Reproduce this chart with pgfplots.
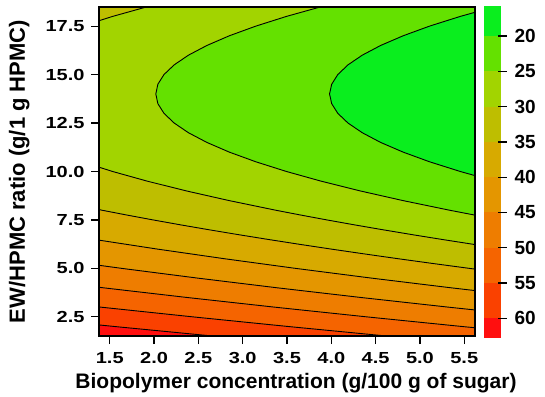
\documentclass[border=0pt]{standalone}
\usepackage{pgfplots}
\pgfplotsset{compat=1.18}
\usepackage{fontspec}
\setmainfont{Liberation Sans}
\newfontfamily\tickfont[FakeStretch=1.25]{Liberation Sans Bold}
\newfontfamily\boldfont{Liberation Sans Bold}
\definecolor{b1}{RGB}{10,238,30}
\definecolor{b2}{RGB}{100,225,0}
\definecolor{b3}{RGB}{162,212,0}
\definecolor{b4}{RGB}{190,190,0}
\definecolor{b5}{RGB}{215,170,0}
\definecolor{b6}{RGB}{228,150,0}
\definecolor{b7}{RGB}{238,125,0}
\definecolor{b8}{RGB}{245,100,0}
\definecolor{b9}{RGB}{250,65,0}
\definecolor{b10}{RGB}{255,15,15}
\begin{document}
\begin{tikzpicture}
\useasboundingbox (-99pt,-60pt) rectangle (446pt,336pt);
\begin{axis}[
  at={(0pt,0pt)}, anchor=south west,
  scale only axis, width=376pt, height=329pt,
  xmin=1.379, xmax=5.621, ymin=1.515, ymax=18.485,
  axis on top,
  xtick={1.5,2.0,2.5,3.0,3.5,4.0,4.5,5.0,5.5},
  ytick={2.5,5.0,7.5,10.0,12.5,15.0,17.5},
  tick align=outside, major tick length=8pt,
  xtick pos=bottom, ytick pos=left,
  tick style={line width=1.1pt, black},
  axis line style={line width=1.2pt},
  /pgf/number format/assume math mode=true,
  /pgf/number format/fixed, /pgf/number format/fixed zerofill,
  /pgf/number format/precision=1,
  xticklabel style={font=\tickfont\fontsize{16}{16}\selectfont, yshift=-4.5pt},
  yticklabel style={font=\tickfont\fontsize{16}{16}\selectfont, xshift=-3pt},
  xlabel={Biopolymer concentration (g/100 g of sugar)},
  ylabel={EW/HPMC ratio (g/1 g HPMC)},
  every axis x label/.style={at={(axis description cs:0.524,-0.161)}, anchor=base, font=\boldfont\fontsize{21}{21}\selectfont},
  every axis y label/.style={at={(axis description cs:-0.197,0.5)}, rotate=90, anchor=base, font=\boldfont\fontsize{22}{22}\selectfont},
]
% background (> 60)
\addplot[fill=b10, draw=none] coordinates {(0,0) (7,0) (7,20) (0,20)};
% z < 60
\addplot[fill=b9, draw=none] coordinates {(0.482,2.5) (1.565,2) (2.694,1.5) (3.869,1) (7,1) (7,20) (0.482,20)};
% z < 55
\addplot[fill=b8, draw=none] coordinates {(0.415,3.5) (1.406,3) (2.443,2.5) (3.525,2) (4.655,1.5) (5.829,1) (7,1) (7,20) (0.415,20)};
% z < 50
\addplot[fill=b7, draw=none] coordinates {(0.533,4.5) (1.431,4) (2.376,3.5) (3.367,3) (4.404,2.5) (5.486,2) (6.615,1.5) (6.615,20) (0.533,20)};
% z < 45
\addplot[fill=b6, draw=none] coordinates {(0.835,5.5) (1.641,5) (2.494,4.5) (3.392,4) (4.337,3.5) (5.327,3) (6.364,2.5) (6.364,20) (0.835,20)};
% z < 40
\addplot[fill=b5, draw=none] coordinates {(0.653,7) (1.321,6.5) (2.035,6) (2.796,5.5) (3.602,5) (4.455,4.5) (5.353,4) (6.298,3.5) (6.298,20) (0.653,20)};
% z < 35
\addplot[fill=b4, draw=none] coordinates {(0.886,8.5) (1.416,8) (1.698,7.75) (1.992,7.5) (2.297,7.25) (2.614,7) (2.942,6.75) (3.282,6.5) (3.633,6.25) (3.996,6) (4.371,5.75) (4.756,5.5) (5.154,5.25) (5.563,5) (6.415,4.5) (6.415,20) (0.886,20)};
% z < 30
\addplot[fill=b3, draw=none] coordinates {(0.888,17) (1.188,17.5) (1.533,18) (1.925,18.5) (2.363,19) (7,19) (7,6.0) (5.957,6.0) (5.594,6.25) (5.243,6.5) (4.903,6.75) (4.575,7) (4.258,7.25) (3.953,7.5) (3.659,7.75) (3.376,8) (2.847,8.5) (2.363,9) (1.925,9.5) (1.533,10) (1.188,10.5) (0.888,11)};
% z < 25
\addplot[fill=b2, draw=none] coordinates {(5.913,7.5) (5.620,7.75) (5.337,8) (4.808,8.5) (4.324,9) (3.886,9.5) (3.494,10) (3.149,10.5) (2.849,11) (2.596,11.5) (2.388,12) (2.227,12.5) (2.112,13) (2.043,13.5) (2.020,14) (2.043,14.5) (2.112,15) (2.227,15.5) (2.388,16) (2.596,16.5) (2.849,17) (3.149,17.5) (3.494,18) (3.886,18.5) (4.324,19) (7,19) (7,7.5)};
% z < 20
\addplot[fill=b1, draw=none] coordinates {(5.847,9.5) (5.455,10) (5.109,10.5) (4.810,11) (4.556,11.5) (4.349,12) (4.188,12.5) (4.073,13) (4.004,13.5) (3.980,14) (4.004,14.5) (4.073,15) (4.188,15.5) (4.349,16) (4.556,16.5) (4.810,17) (5.109,17.5) (5.455,18) (5.847,18.5) (7,18.5) (7,9.5)};
% contour lines
\addplot[black, line width=0.9pt] coordinates {(0.482,2.5) (1.565,2) (2.694,1.5) (3.869,1)};
\addplot[black, line width=0.9pt] coordinates {(0.415,3.5) (1.406,3) (2.443,2.5) (3.525,2) (4.655,1.5) (5.829,1)};
\addplot[black, line width=0.9pt] coordinates {(0.533,4.5) (1.431,4) (2.376,3.5) (3.367,3) (4.404,2.5) (5.486,2) (6.615,1.5)};
\addplot[black, line width=0.9pt] coordinates {(0.835,5.5) (1.641,5) (2.494,4.5) (3.392,4) (4.337,3.5) (5.327,3) (6.364,2.5)};
\addplot[black, line width=0.9pt] coordinates {(0.653,7) (1.321,6.5) (2.035,6) (2.796,5.5) (3.602,5) (4.455,4.5) (5.353,4) (6.298,3.5)};
\addplot[black, line width=0.9pt] coordinates {(0.886,8.5) (1.416,8) (1.698,7.75) (1.992,7.5) (2.297,7.25) (2.614,7) (2.942,6.75) (3.282,6.5) (3.633,6.25) (3.996,6) (4.371,5.75) (4.756,5.5) (5.154,5.25) (5.563,5) (6.415,4.5)};
\addplot[black, line width=0.9pt] coordinates {(0.888,17) (1.188,17.5) (1.533,18) (1.925,18.5) (2.363,19)};
\addplot[black, line width=0.9pt] coordinates {(5.957,6.0) (5.594,6.25) (5.243,6.5) (4.903,6.75) (4.575,7) (4.258,7.25) (3.953,7.5) (3.659,7.75) (3.376,8) (2.847,8.5) (2.363,9) (1.925,9.5) (1.533,10) (1.188,10.5) (0.888,11)};
\addplot[black, line width=0.9pt] coordinates {(5.913,7.5) (5.620,7.75) (5.337,8) (4.808,8.5) (4.324,9) (3.886,9.5) (3.494,10) (3.149,10.5) (2.849,11) (2.596,11.5) (2.388,12) (2.227,12.5) (2.112,13) (2.043,13.5) (2.020,14) (2.043,14.5) (2.112,15) (2.227,15.5) (2.388,16) (2.596,16.5) (2.849,17) (3.149,17.5) (3.494,18) (3.886,18.5) (4.324,19)};
\addplot[black, line width=0.9pt] coordinates {(5.847,9.5) (5.455,10) (5.109,10.5) (4.810,11) (4.556,11.5) (4.349,12) (4.188,12.5) (4.073,13) (4.004,13.5) (3.980,14) (4.004,14.5) (4.073,15) (4.188,15.5) (4.349,16) (4.556,16.5) (4.810,17) (5.109,17.5) (5.455,18) (5.847,18.5)};
\end{axis}
% colour key (values plotted negated so that 20 is at the top)
\begin{axis}[
  at={(385pt,-2.3pt)}, anchor=south west,
  scale only axis, width=26pt, height=332.3pt,
  xmin=0, xmax=1.557, ymin=-62.84, ymax=-15.74,
  hide x axis,
  axis y line*=right,
  y axis line style={draw opacity=0},
  ytick={-60,-55,-50,-45,-40,-35,-30,-25,-20},
  yticklabels={60,55,50,45,40,35,30,25,20},
  major tick length=0pt,
  yticklabel style={font=\boldfont\fontsize{19}{19}\selectfont, xshift=1pt},
]
\addplot[fill=b1, draw=none] coordinates {(0,-15.74) (1,-15.74) (1,-20) (0,-20)};
\addplot[fill=b2, draw=none] coordinates {(0,-20) (1,-20) (1,-25) (0,-25)};
\addplot[fill=b3, draw=none] coordinates {(0,-25) (1,-25) (1,-30) (0,-30)};
\addplot[fill=b4, draw=none] coordinates {(0,-30) (1,-30) (1,-35) (0,-35)};
\addplot[fill=b5, draw=none] coordinates {(0,-35) (1,-35) (1,-40) (0,-40)};
\addplot[fill=b6, draw=none] coordinates {(0,-40) (1,-40) (1,-45) (0,-45)};
\addplot[fill=b7, draw=none] coordinates {(0,-45) (1,-45) (1,-50) (0,-50)};
\addplot[fill=b8, draw=none] coordinates {(0,-50) (1,-50) (1,-55) (0,-55)};
\addplot[fill=b9, draw=none] coordinates {(0,-55) (1,-55) (1,-60) (0,-60)};
\addplot[fill=b10, draw=none] coordinates {(0,-60) (1,-60) (1,-62.84) (0,-62.84)};
\addplot[black, line width=1.3pt] coordinates {(0.84,-20) (1.38,-20)};
\addplot[black, line width=1.3pt] coordinates {(0.84,-25) (1.38,-25)};
\addplot[black, line width=1.3pt] coordinates {(0.84,-30) (1.38,-30)};
\addplot[black, line width=1.3pt] coordinates {(0.84,-35) (1.38,-35)};
\addplot[black, line width=1.3pt] coordinates {(0.84,-40) (1.38,-40)};
\addplot[black, line width=1.3pt] coordinates {(0.84,-45) (1.38,-45)};
\addplot[black, line width=1.3pt] coordinates {(0.84,-50) (1.38,-50)};
\addplot[black, line width=1.3pt] coordinates {(0.84,-55) (1.38,-55)};
\addplot[black, line width=1.3pt] coordinates {(0.84,-60) (1.38,-60)};
\end{axis}
\end{tikzpicture}
\end{document}
